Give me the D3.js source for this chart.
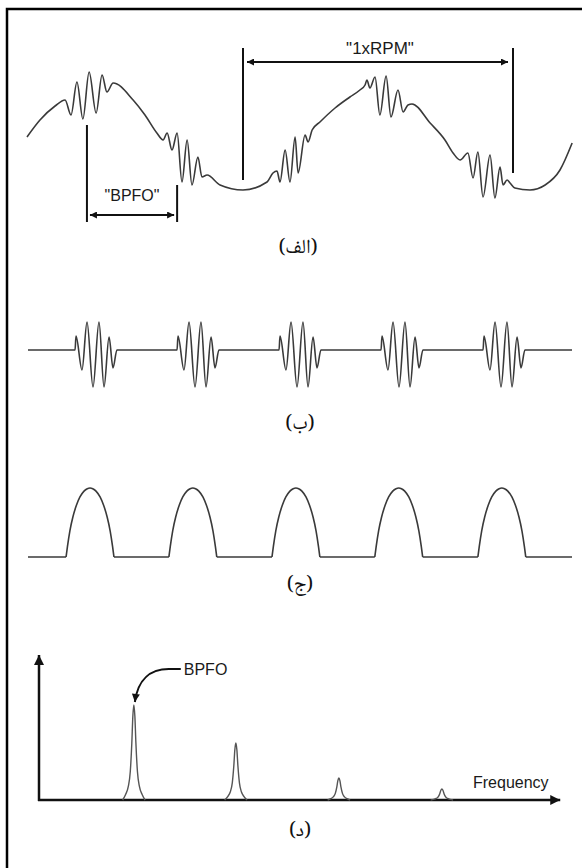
<!DOCTYPE html>
<html>
<head>
<meta charset="utf-8">
<script src="https://cdn.jsdelivr.net/npm/d3@7"></script>
<style>
html,body{margin:0;padding:0;background:#fff;}
svg{display:block;}
.lat{font-family:"Liberation Sans",Arial,sans-serif;font-size:16px;fill:#1a1a1a;}
.ar{font-family:"Noto Naskh Arabic","DejaVu Sans",serif;font-size:20px;fill:#111;}
</style>
</head>
<body>
<script>
// ---------- DATA ----------
// Panel (الف): raw signal, time in ms (one revolution = 100 ms), amplitude in arbitrary units
const waveformA = [[-80,-2],[-75.2,15],[-69.6,29],[-65.9,35],[-63.7,20],[-61.5,53],[-59.3,16],[-57.0,63],[-54.4,22],[-52.2,60],[-50.4,43],[-48.1,52],[-40.7,35],[-36.3,20],[-31.9,2],[-29.6,-5],[-28.1,2],[-26.3,-15],[-24.4,2],[-22.6,-47],[-20.7,-5],[-18.9,-50],[-16.7,-22],[-15.2,-42],[-13.3,-40],[-8.5,-50],[0,-55],[8.9,-47],[11.1,-38],[12.6,-36],[13.7,-47],[15.6,-15],[17.4,-47],[19.3,-2],[20.4,-38],[23.0,0],[24.1,-7],[25.6,5],[28.5,13],[34.1,27],[39.6,38],[43.3,45],[45.2,50],[45.9,55],[47.0,47],[48.9,58],[50.7,20],[53.0,59],[54.8,18],[57.4,45],[59.3,23],[61.1,30],[62.6,31],[69.3,12],[74.8,-5],[77.8,-18],[80.4,-25],[83.3,-18],[85.2,-43],[87.0,-17],[88.9,-62],[91.5,-20],[93.3,-63],[95.2,-32],[96.3,-50],[97.8,-45],[98.9,-48],[100.7,-53],[106.3,-55],[111.9,-50],[117.4,-35],[121.9,-8]];
const rpmMarks = [0, 100];          // 1xRPM interval (ms)
const bpfoMarks = [-57.8, -24.4];   // BPFO interval (ms)
const labelsA = ['"1xRPM"', '"BPFO"'];

// Panel (ب): filtered bursts, time in ms
const burstCenters = [25, 62.5, 100, 137.5, 175];
const burstShape = [[-7.7,0],[-7.35,14],[-5.15,-20],[-3.3,28],[-1.1,-37],[1.1,28],[2.95,-37],[4.8,13],[6.25,-18],[7.7,0]];

// Panel (ج): envelope, time in ms
const humpCenters = [22.8, 60.6, 98.5, 136.3, 174.2];
const humpShape = [[-8.8,0],[-8.3,0.15],[-7.4,0.38],[-6.3,0.58],[-5.0,0.75],[-3.7,0.87],[-2.2,0.955],[-1.0,0.99],[0,1],[1.0,0.99],[2.2,0.955],[3.7,0.87],[5.0,0.75],[6.3,0.58],[7.4,0.38],[8.3,0.15],[8.8,0]];

// Panel (د): spectrum, frequency in Hz
const peakFreqs = [93, 193, 294, 395];
const peakAmps = [95, 57, 22, 11];
const peakShape = [[-11,0],[-8,0.06],[-5.5,0.14],[-3.5,0.3],[-2,0.6],[-1,0.88],[0,1],[1,0.88],[2,0.6],[3.5,0.3],[5.5,0.14],[8,0.06],[11,0]];
const labelsD = ["BPFO", "Frequency"];

const panelLabels = ["(الف)", "(ب)", "(ج)", "(د)"];

// ---------- DRAW ----------
const W = 582, H = 868;
const svg = d3.select("body").append("svg").attr("width", W).attr("height", H);

const defs = svg.append("defs");
function marker(id, len, wid){
  defs.append("marker").attr("id", id)
    .attr("viewBox", "0 0 10 10").attr("refX", 10).attr("refY", 5)
    .attr("markerUnits", "userSpaceOnUse")
    .attr("markerWidth", len).attr("markerHeight", wid)
    .attr("orient", "auto-start-reverse")
    .append("path").attr("d", "M0,0L10,5L0,10Z").attr("fill", "#111");
}
marker("arrS", 10, 7);
marker("arrL", 14, 10);
marker("arrC", 10, 8);

// frame
svg.append("path").attr("d", "M7,868L7,9L582,9").attr("fill", "none")
  .attr("stroke", "#000").attr("stroke-width", 2.5);

const waveStroke = "#3a3a3a";

// ===== Panel (الف) =====
const xA = d3.scaleLinear().domain([0, 100]).range([243, 513]);
const yA = d3.scaleLinear().domain([-70, 70]).range([205, 65]);
const lineA = d3.line().x(d => xA(d[0])).y(d => yA(d[1])).curve(d3.curveMonotoneX);
svg.append("path").datum(waveformA).attr("d", lineA)
  .attr("fill", "none").attr("stroke", waveStroke).attr("stroke-width", 1.6);

// 1xRPM markers
const rpmSpans = [[87, -45], [87, -38]];
rpmMarks.forEach((t, i) => {
  svg.append("line").attr("x1", xA(t)).attr("x2", xA(t))
    .attr("y1", yA(rpmSpans[i][0])).attr("y2", yA(rpmSpans[i][1]))
    .attr("stroke", "#111").attr("stroke-width", 2);
});
svg.append("line").attr("x1", xA(rpmMarks[0]) + 4).attr("x2", xA(rpmMarks[1]) - 5)
  .attr("y1", yA(73)).attr("y2", yA(73))
  .attr("stroke", "#111").attr("stroke-width", 2)
  .attr("marker-start", "url(#arrS)").attr("marker-end", "url(#arrS)");
svg.append("text").attr("class", "lat").attr("text-anchor", "middle")
  .style("font-size", "17px")
  .attr("x", xA((rpmMarks[0] + rpmMarks[1]) / 2) + 2).attr("y", yA(81))
  .text(labelsA[0]);

// BPFO markers
const bpfoSpans = [[10, -87], [-50, -87]];
bpfoMarks.forEach((t, i) => {
  svg.append("line").attr("x1", xA(t)).attr("x2", xA(t))
    .attr("y1", yA(bpfoSpans[i][0])).attr("y2", yA(bpfoSpans[i][1]))
    .attr("stroke", "#111").attr("stroke-width", 2);
});
svg.append("line").attr("x1", xA(bpfoMarks[0]) + 3).attr("x2", xA(bpfoMarks[1]) - 3)
  .attr("y1", yA(-80)).attr("y2", yA(-80))
  .attr("stroke", "#111").attr("stroke-width", 2)
  .attr("marker-start", "url(#arrS)").attr("marker-end", "url(#arrS)");
svg.append("text").attr("class", "lat").attr("text-anchor", "middle")
  .attr("x", xA((bpfoMarks[0] + bpfoMarks[1]) / 2)).attr("y", yA(-66))
  .text(labelsA[1]);

svg.append("text").attr("class", "ar").attr("text-anchor", "middle")
  .attr("x", 298).attr("y", 253).text(panelLabels[0]);

// ===== Panel (ب) =====
const xBC = d3.scaleLinear().domain([0, 200]).range([28, 572]);
const yB = d3.scaleLinear().domain([-40, 40]).range([390, 310]);
const ptsB = [[0, 0]];
burstCenters.forEach(c => burstShape.forEach(p => ptsB.push([c + p[0], p[1]])));
ptsB.push([200, 0]);
const lineB = d3.line().x(d => xBC(d[0])).y(d => yB(d[1])).curve(d3.curveMonotoneX);
svg.append("path").datum(ptsB).attr("d", lineB)
  .attr("fill", "none").attr("stroke", waveStroke).attr("stroke-width", 1.6);
svg.append("text").attr("class", "ar").attr("text-anchor", "middle")
  .attr("x", 300).attr("y", 429).text(panelLabels[1]);

// ===== Panel (ج) =====
const yC = d3.scaleLinear().domain([0, 1]).range([557, 488]);
const humpStart = humpShape[0][0], humpEnd = humpShape[humpShape.length - 1][0];
const baseC = [];
let prev = 0;
humpCenters.forEach(c => { baseC.push([[prev, 0], [c + humpStart, 0]]); prev = c + humpEnd; });
baseC.push([[prev, 0], [200, 0]]);
const lineCflat = d3.line().x(d => xBC(d[0])).y(d => yC(d[1]));
baseC.forEach(seg => svg.append("path").datum(seg).attr("d", lineCflat)
  .attr("fill", "none").attr("stroke", waveStroke).attr("stroke-width", 1.6));
const lineC = d3.line().x(d => xBC(d[0])).y(d => yC(d[1])).curve(d3.curveMonotoneX);
humpCenters.forEach(c => {
  svg.append("path").datum(humpShape.map(p => [c + p[0], p[1]])).attr("d", lineC)
    .attr("fill", "none").attr("stroke", waveStroke).attr("stroke-width", 1.6)
    .attr("stroke-linejoin", "round");
});
svg.append("text").attr("class", "ar").attr("text-anchor", "middle")
  .attr("x", 300).attr("y", 590).text(panelLabels[2]);

// ===== Panel (د) =====
const xD = d3.scaleLinear().domain([0, 500]).range([39, 549]);
const yD = d3.scaleLinear().domain([0, 100]).range([800, 700]);
svg.append("line").attr("x1", xD(0)).attr("x2", xD(0)).attr("y1", yD(0) + 1).attr("y2", yD(145))
  .attr("stroke", "#111").attr("stroke-width", 2.5).attr("marker-end", "url(#arrL)");
svg.append("line").attr("x1", xD(0) - 1).attr("x2", xD(511)).attr("y1", yD(0)).attr("y2", yD(0))
  .attr("stroke", "#111").attr("stroke-width", 2.5).attr("marker-end", "url(#arrL)");
const lineD = d3.line().x(d => xD(d[0])).y(d => yD(d[1])).curve(d3.curveMonotoneX);
peakFreqs.forEach((f, i) => {
  const pts = peakShape.map(p => [f + p[0], peakAmps[i] * p[1]]);
  svg.append("path").datum(pts).attr("d", lineD)
    .attr("fill", "none").attr("stroke", "#555").attr("stroke-width", 1.4);
});
const tipX = xD(peakFreqs[0]) + 1, tipY = yD(peakAmps[0]) - 3;
const lx = xD(139), ly = yD(131);
svg.append("path")
  .attr("d", `M${lx},${ly}L${lx - 12},${ly}C${lx - 30},${ly} ${tipX + 3},${ly + 10} ${tipX},${tipY}`)
  .attr("fill", "none").attr("stroke", "#111").attr("stroke-width", 2)
  .attr("marker-end", "url(#arrC)");
svg.append("text").attr("class", "lat").attr("x", lx + 3).attr("y", ly + 6).text(labelsD[0]);
svg.append("text").attr("class", "lat").attr("x", xD(425.5)).attr("y", yD(12)).text(labelsD[1]);

svg.append("text").attr("class", "ar").attr("text-anchor", "middle")
  .attr("x", 300).attr("y", 836).text(panelLabels[3]);
</script>
</body>
</html>
